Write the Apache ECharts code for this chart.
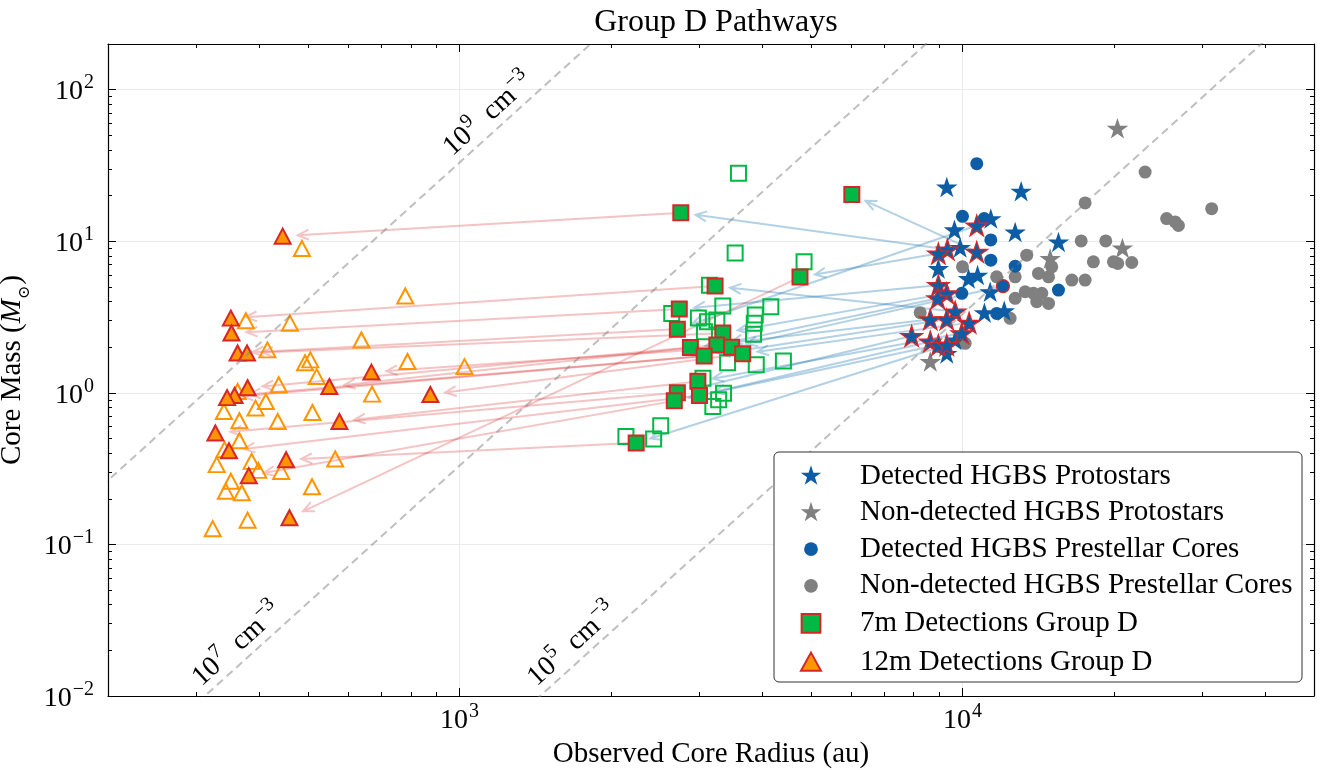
<!DOCTYPE html>
<html>
<head>
<meta charset="utf-8">
<script src="https://cdn.jsdelivr.net/npm/echarts@6/dist/echarts.min.js"></script>
<style>
  html, body { margin: 0; padding: 0; background: #fff; }
  #chart { width: 1329px; height: 770px; }
</style>
</head>
<body>
<div id="chart"></div>
<script>
// ---- Core radius (au) and mass (Msun) ----
const hgbsProtostarsDetected = [
  [9307, 22.8], [13082, 21.4], [11386, 14.1], [9640, 11.9], [12729, 11.5], [15520, 9.89],
  [9895, 9.09], [8955, 6.61], [10280, 5.68], [10716, 5.98], [11353, 4.64], [11057, 3.38],
  [12107, 3.48], [9307, 1.82], [9671, 2.23]
];
const hgbsProtostarsNondetected = [
  [20330, 55.6], [14940, 7.69], [20800, 9.03], [8630, 1.61]
];
const hgbsPrestellarDetected = [
  [10676, 32.5], [10000, 14.6], [11044, 14.1], [11386, 10.2], [11386, 7.50], [12729, 6.85],
  [15520, 4.76], [9968, 4.53], [11695, 3.34]
];
const hgbsPrestellarNondetected = [
  [17534, 17.9], [23077, 28.6], [31300, 16.4], [25470, 14.1], [26480, 13.4], [26880, 12.7],
  [17220, 10.05], [19270, 10.05], [13420, 8.09], [18210, 7.31], [10000, 6.78], [12729, 5.82],
  [11695, 5.82], [14160, 6.13], [15050, 6.78], [14830, 5.82], [16500, 5.54], [17534, 5.54],
  [13324, 4.64], [13840, 4.53], [14380, 4.53], [12729, 4.20], [14050, 3.99], [14830, 3.89],
  [8240, 3.38], [12438, 3.10], [19960, 7.31], [20360, 7.13], [21710, 7.24], [10124, 2.12]
];
// HGBS parents of the Group D cores (index 5 is a prestellar core, the rest protostars)
const groupDHgbs = [
  [10676, 12.7], [9333, 8.82], [8955, 8.30], [10676, 8.50], [8955, 5.13], [12036, 5.06],
  [9307, 4.53], [8933, 4.20], [9671, 3.43], [8630, 3.05], [9307, 3.05], [10311, 2.90],
  [9968, 2.47], [7925, 2.37], [8630, 2.18], [8955, 2.07], [9307, 2.07]
];
const groupDHgbsPrestellar = [5];
const detections7m = [
  [6026, 20.3], [2754, 15.4], [4753, 5.80], [3222, 5.06], [2735, 3.57], [2711, 2.63],
  [3338, 2.48], [3248, 2.07], [3475, 2.00], [2878, 1.99], [3656, 1.81], [3065, 1.75],
  [2978, 1.19], [2711, 1.00], [3000, 0.96], [2673, 0.885], [2245, 0.467]
];
const other7m = [
  [3586, 28.1], [3532, 8.37], [4842, 7.31], [3140, 5.13], [3338, 3.74], [4159, 3.70],
  [2642, 3.34], [3872, 3.26], [3248, 3.02], [3855, 2.88], [3842, 2.43], [3069, 2.53],
  [3112, 2.94], [2985, 3.11], [3412, 1.58], [3890, 1.53], [4405, 1.62], [3048, 1.25],
  [3349, 0.995], [3189, 0.813], [3275, 0.90], [2512, 0.607], [2142, 0.516], [2432, 0.496]
];
const detections12m = [
  [445, 10.8], [351, 3.11], [352, 2.48], [362, 1.83], [378, 1.83], [668, 1.37],
  [551, 1.10], [379, 1.08], [875, 0.975], [357, 0.96], [345, 0.93], [577, 0.647],
  [327, 0.543], [348, 0.415], [452, 0.362], [381, 0.284], [459, 0.150]
];
const other12m = [
  [486, 8.95], [780, 4.35], [376, 2.99], [460, 2.88], [638, 2.23], [415, 1.92],
  [493, 1.58], [505, 1.65], [520, 1.28], [788, 1.61], [1023, 1.49], [437, 1.13],
  [670, 0.98], [362, 1.02], [340, 0.753], [393, 0.793], [412, 0.877], [365, 0.654],
  [435, 0.647], [510, 0.742], [365, 0.483], [341, 0.422], [329, 0.336], [386, 0.353],
  [398, 0.308], [442, 0.303], [566, 0.366], [351, 0.261], [343, 0.224], [369, 0.219],
  [509, 0.240], [379, 0.1445], [323, 0.127]
];
// [HGBS index, 7m index] and [7m index, 12m index]
const links7m = [
  [3, 0], [1, 1], [2, 2], [8, 3], [4, 4], [0, 5], [6, 6], [7, 7], [5, 8],
  [9, 9], [11, 10], [10, 11], [12, 12], [13, 13], [14, 14], [15, 15], [16, 16]
];
const links12m = [
  [1, 0], [3, 1], [4, 2], [5, 3], [6, 4], [8, 5], [7, 6], [9, 7], [10, 8],
  [11, 9], [11, 10], [12, 11], [13, 12], [14, 13], [16, 14], [15, 15], [2, 16]
];
// Constant-density reference lines (cm^-3) and where their labels sit (au)
const densities = [1e5, 1e7, 1e9];
const densityLabelRadius = [1764, 380, 1200];

const xRange = [200, 50000];
const yRange = [0.01, 200];
const xMajor = [1000, 10000];
const xMinor = [300, 400, 500, 600, 700, 800, 900, 2000, 3000, 4000, 5000, 6000, 7000, 8000, 9000, 20000, 30000, 40000];
const yMajor = [0.01, 0.1, 1, 10, 100];
const yMinor = [0.02, 0.03, 0.04, 0.05, 0.06, 0.07, 0.08, 0.09, 0.2, 0.3, 0.4, 0.5, 0.6, 0.7, 0.8, 0.9,
  2, 3, 4, 5, 6, 7, 8, 9, 20, 30, 40, 50, 60, 70, 80, 90];

// ---- physics: M = (4/3) pi R^3 n mu m_H ----
const AU_CM = 1.496e13, M_H = 1.6735e-24, MU = 2.8, MSUN = 1.989e33;
const MASS_COEF = (4 / 3) * Math.PI * Math.pow(AU_CM, 3) * MU * M_H / MSUN;
const massAt = (r, n) => MASS_COEF * n * r * r * r;

// ---- styling ----
const FONT = 'Liberation Serif';
const C_BLUE = '#0C5DA5', C_GRAY = '#808080', C_GREEN = '#00B945', C_ORANGE = '#FF9500', C_RED = '#D62728';

function starPath(ro, ri) {
  let d = '';
  for (let k = 0; k < 10; k++) {
    const r = k % 2 ? ri : ro;
    const a = -Math.PI / 2 + k * Math.PI / 5;
    d += (k ? 'L' : 'M') + (r * Math.cos(a)).toFixed(3) + ' ' + (r * Math.sin(a)).toFixed(3) + ' ';
  }
  return d + 'Z';
}
const circlePath = r => `M${-r} 0 A${r} ${r} 0 1 0 ${r} 0 A${r} ${r} 0 1 0 ${-r} 0 Z`;
const BOX = 'M-12 -12 M12 12 ';
const STAR = 'path://' + starPath(10, 3.82);
const legendIcons = {
  star: 'path://' + BOX + starPath(8.6, 3.3),
  dot: 'path://' + BOX + circlePath(5.5),
  square: 'path://' + BOX + 'M-7.5 -7.5 L7.5 -7.5 L7.5 7.5 L-7.5 7.5 Z',
  triangle: 'path://' + BOX + 'M0 -7.5 L8 7 L-8 7 Z'
};

const supRich = {
  b: { fontFamily: FONT, fontSize: 28, color: '#000', verticalAlign: 'bottom' },
  s: { fontFamily: FONT, fontSize: 20, color: '#000', verticalAlign: 'bottom', padding: [0, 0, 13, 1] }
};
function powerLabel(v) {
  const e = Math.round(Math.log10(v));
  return '{b|10}{s|' + (e < 0 ? '\u2212' + (-e) : e) + '}';
}

function frameAxis(range, position, ticks, minor, labels) {
  return {
    type: 'log', logBase: 10, min: range[0], max: range[1], position,
    axisLine: { show: !minor, onZero: false, lineStyle: { color: '#000', width: 1.2 } },
    axisTick: { show: true, inside: true, length: minor ? 4 : 8, customValues: ticks,
      lineStyle: { color: '#000', width: 1 } },
    axisLabel: labels ? Object.assign({ customValues: ticks, formatter: powerLabel, rich: supRich }, labels) : { show: false },
    splitLine: { show: !!labels, lineStyle: { color: '#ebebeb', width: 1 } },
    minorTick: { show: false },
    minorSplitLine: { show: false },
    silent: true
  };
}

const xAxes = [
  Object.assign(frameAxis(xRange, 'bottom', xMajor, false, { margin: 6 }), {
    name: 'Observed Core Radius (au)', nameLocation: 'middle', nameGap: 38,
    nameTextStyle: { fontFamily: FONT, fontSize: 29, color: '#000' }
  }),
  frameAxis(xRange, 'top', xMajor, false, null),
  frameAxis(xRange, 'bottom', xMinor, true, null),
  frameAxis(xRange, 'top', xMinor, true, null)
];
const yAxes = [
  Object.assign(frameAxis(yRange, 'left', yMajor, false, { margin: 14 }), {
    name: '{n|Core Mass (}{i|M}{sub|\u2299}{n|)}', nameLocation: 'middle', nameGap: 70, nameRotate: 90,
    nameTextStyle: {
      rich: {
        n: { fontFamily: FONT, fontSize: 29, color: '#000', verticalAlign: 'bottom', padding: [0, 0, 6, 0] },
        i: { fontFamily: FONT, fontSize: 29, fontStyle: 'italic', color: '#000', verticalAlign: 'bottom', padding: [0, 0, 6, 0] },
        sub: { fontFamily: 'DejaVu Serif', fontSize: 16, color: '#000', verticalAlign: 'bottom', padding: [0, 1, 0, 0] }
      }
    }
  }),
  frameAxis(yRange, 'right', yMajor, false, null),
  frameAxis(yRange, 'left', yMinor, true, null),
  frameAxis(yRange, 'right', yMinor, true, null)
];

function scatter(name, data, symbol, size, itemStyle, z) {
  return { type: 'scatter', name, data, symbol, symbolSize: size,
    itemStyle: Object.assign({ opacity: 1 }, itemStyle), z,
    xAxisIndex: 0, yAxisIndex: 0, silent: true, emphasis: { disabled: true } };
}

function arrowSeries(data, color) {
  return {
    type: 'custom', data, z: 1, silent: true, clip: true,
    xAxisIndex: 0, yAxisIndex: 0,
    encode: { x: [0, 2], y: [1, 3] },
    renderItem(params, api) {
      const a = api.coord([api.value(0), api.value(1)]);
      const b = api.coord([api.value(2), api.value(3)]);
      const dx = b[0] - a[0], dy = b[1] - a[1];
      const len = Math.hypot(dx, dy) || 1;
      const ux = dx / len, uy = dy / len;
      const s = [a[0] + ux * 3, a[1] + uy * 3];
      const t = [b[0] - ux * 15, b[1] - uy * 15];
      const hl = 11, hw = 5;
      const w1 = [t[0] - ux * hl - uy * hw, t[1] - uy * hl + ux * hw];
      const w2 = [t[0] - ux * hl + uy * hw, t[1] - uy * hl - ux * hw];
      const f = p => p[0].toFixed(2) + ' ' + p[1].toFixed(2);
      return {
        type: 'path',
        shape: { pathData: `M${f(s)} L${f(t)} M${f(w1)} L${f(t)} L${f(w2)}` },
        style: { stroke: color, lineWidth: 2, fill: 'none', lineJoin: 'miter' }
      };
    }
  };
}

const groupDStars = groupDHgbs.filter((_, i) => groupDHgbsPrestellar.indexOf(i) < 0);
const groupDCores = groupDHgbs.filter((_, i) => groupDHgbsPrestellar.indexOf(i) >= 0);

const densitySeries = densities.map(n => ({
  type: 'line', silent: true, z: 4, symbol: 'none', clip: true,
  xAxisIndex: 0, yAxisIndex: 0,
  data: [[100, massAt(100, n)], [100000, massAt(100000, n)]],
  lineStyle: { color: 'rgba(128,128,128,0.5)', width: 2, type: [8, 5] },
  emphasis: { disabled: true }
}));

const series = [
  arrowSeries(links7m.map(([h, s]) => groupDHgbs[h].concat(detections7m[s])), 'rgba(31,119,180,0.34)'),
  arrowSeries(links12m.map(([s, t]) => detections7m[s].concat(detections12m[t])), 'rgba(214,39,40,0.28)'),
  scatter('Non-detected HGBS Prestellar Cores', hgbsPrestellarNondetected, 'circle', 13, { color: C_GRAY }, 2),
  scatter('Non-detected HGBS Protostars', hgbsProtostarsNondetected, STAR, [21.5, 20.5], { color: C_GRAY }, 2),
  scatter('Detected HGBS Prestellar Cores', hgbsPrestellarDetected, 'circle', 13, { color: C_BLUE }, 2),
  scatter('Detected HGBS Protostars', hgbsProtostarsDetected, STAR, [21.5, 20.5], { color: C_BLUE }, 2),
  scatter('Group D HGBS protostars', groupDStars, STAR, [21.5, 20.5], { color: C_BLUE, borderColor: C_RED, borderWidth: 1.3 }, 2),
  scatter('Group D HGBS prestellar cores', groupDCores, 'circle', 13, { color: C_BLUE, borderColor: C_RED, borderWidth: 1.3 }, 2),
  scatter('Other 7m cores', other7m, 'rect', 15, { color: 'rgba(255,255,255,0)', borderColor: C_GREEN, borderWidth: 2 }, 3),
  scatter('7m Detections Group D', detections7m, 'rect', 15, { color: C_GREEN, borderColor: C_RED, borderWidth: 2 }, 3),
  scatter('Other 12m cores', other12m, 'triangle', [16, 15], { color: 'rgba(255,255,255,0)', borderColor: C_ORANGE, borderWidth: 2 }, 3),
  scatter('12m Detections Group D', detections12m, 'triangle', [16, 15], { color: C_ORANGE, borderColor: C_RED, borderWidth: 2 }, 3)
].concat(densitySeries);

const chart = echarts.init(document.getElementById('chart'), null, { renderer: 'canvas' });
chart.setOption({
  animation: false,
  backgroundColor: '#fff',
  title: {
    text: 'Group D Pathways', left: 711, top: 2, textAlign: 'center',
    textStyle: { fontFamily: FONT, fontSize: 32, fontWeight: 'normal', color: '#000' }
  },
  grid: { left: 108, right: 15, top: 44, bottom: 74, containLabel: false, outerBoundsMode: 'none' },
  xAxis: xAxes,
  yAxis: yAxes,
  legend: {
    left: 795, top: 461, orient: 'vertical', padding: 0,
    itemWidth: 88, itemHeight: 30, itemGap: 6.6, selectedMode: false, z: 8,
    textStyle: { fontFamily: FONT, fontSize: 29, color: '#000', lineHeight: 30 },
    data: [
      { name: 'Detected HGBS Protostars', icon: legendIcons.star, itemStyle: { color: C_BLUE, borderWidth: 0, opacity: 1 } },
      { name: 'Non-detected HGBS Protostars', icon: legendIcons.star, itemStyle: { color: C_GRAY, borderWidth: 0, opacity: 1 } },
      { name: 'Detected HGBS Prestellar Cores', icon: legendIcons.dot, itemStyle: { color: C_BLUE, borderWidth: 0, opacity: 1 } },
      { name: 'Non-detected HGBS Prestellar Cores', icon: legendIcons.dot, itemStyle: { color: C_GRAY, borderWidth: 0, opacity: 1 } },
      { name: '7m Detections Group D', icon: legendIcons.square, itemStyle: { color: C_GREEN, borderColor: C_RED, borderWidth: 2, opacity: 1 } },
      { name: '12m Detections Group D', icon: legendIcons.triangle, itemStyle: { color: C_ORANGE, borderColor: C_RED, borderWidth: 2, opacity: 1 } }
    ]
  },
  series
});

// Frame behind the legend and the rotated density labels
const labelRich = {
  b: { fontFamily: FONT, fontSize: 28, color: '#000', verticalAlign: 'bottom' },
  s: { fontFamily: FONT, fontSize: 20, color: '#000', verticalAlign: 'bottom', padding: [0, 0, 13, 1] }
};
const densityLabels = densities.map((n, i) => {
  const r = densityLabelRadius[i];
  const p = chart.convertToPixel({ gridIndex: 0 }, [r, massAt(r, n)]);
  const q = chart.convertToPixel({ gridIndex: 0 }, [r * 2, massAt(r * 2, n)]);
  const ang = Math.atan2(-(q[1] - p[1]), q[0] - p[0]);
  const d = 19;
  const e = Math.round(Math.log10(n));
  return {
    type: 'text', z: 6, silent: true,
    x: p[0] - Math.sin(ang) * d, y: p[1] - Math.cos(ang) * d, rotation: ang,
    style: { text: '{b|10}{s|' + e + '}{b|  cm}{s|\u22123}', rich: labelRich, align: 'center', verticalAlign: 'middle' }
  };
});
chart.setOption({
  graphic: [
    { type: 'rect', z: 7, silent: true, shape: { x: 774, y: 452, width: 528, height: 230, r: 5 },
      style: { fill: '#fff', stroke: '#333', lineWidth: 1 } }
  ].concat(densityLabels)
});
</script>
</body>
</html>
